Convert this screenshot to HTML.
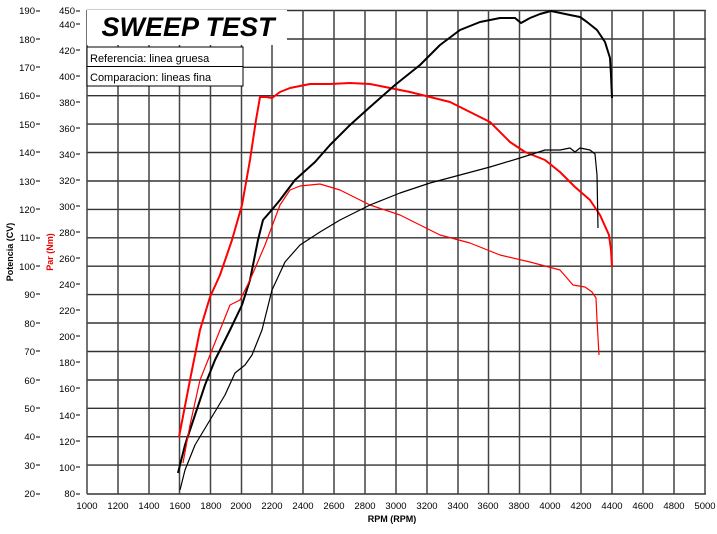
<!DOCTYPE html>
<html><head><style>
body{margin:0;background:#fff;width:717px;height:529px;overflow:hidden}
text{font-family:"Liberation Sans",sans-serif}
</style></head><body>
<svg width="717" height="529" xmlns="http://www.w3.org/2000/svg">
<g id="grid" stroke="#333" stroke-width="1.4">
<line x1="87" y1="10.5" x2="706" y2="10.5"/>
<line x1="87" y1="39" x2="706" y2="39"/>
<line x1="87" y1="67.3" x2="706" y2="67.3"/>
<line x1="87" y1="95.7" x2="706" y2="95.7"/>
<line x1="87" y1="124.1" x2="706" y2="124.1"/>
<line x1="87" y1="152.5" x2="706" y2="152.5"/>
<line x1="87" y1="181" x2="706" y2="181"/>
<line x1="87" y1="209.4" x2="706" y2="209.4"/>
<line x1="87" y1="237.8" x2="706" y2="237.8"/>
<line x1="87" y1="266.2" x2="706" y2="266.2"/>
<line x1="87" y1="294.6" x2="706" y2="294.6"/>
<line x1="87" y1="323" x2="706" y2="323"/>
<line x1="87" y1="351.5" x2="706" y2="351.5"/>
<line x1="87" y1="380" x2="706" y2="380"/>
<line x1="87" y1="408.3" x2="706" y2="408.3"/>
<line x1="87" y1="436.7" x2="706" y2="436.7"/>
<line x1="87" y1="465.1" x2="706" y2="465.1"/>
<line x1="87" y1="494" x2="706" y2="494"/>
</g>
<g stroke="#444" stroke-width="1.5">
<line x1="87" y1="10" x2="87" y2="494"/><line x1="118" y1="10" x2="118" y2="494"/><line x1="149" y1="10" x2="149" y2="494"/><line x1="179.5" y1="10" x2="179.5" y2="494"/><line x1="210.5" y1="10" x2="210.5" y2="494"/><line x1="241.5" y1="10" x2="241.5" y2="494"/><line x1="272" y1="10" x2="272" y2="494"/><line x1="303" y1="10" x2="303" y2="494"/><line x1="334" y1="10" x2="334" y2="494"/><line x1="365" y1="10" x2="365" y2="494"/><line x1="396" y1="10" x2="396" y2="494"/><line x1="427" y1="10" x2="427" y2="494"/><line x1="458" y1="10" x2="458" y2="494"/><line x1="488.5" y1="10" x2="488.5" y2="494"/><line x1="519.5" y1="10" x2="519.5" y2="494"/><line x1="550.5" y1="10" x2="550.5" y2="494"/><line x1="581" y1="10" x2="581" y2="494"/><line x1="612" y1="10" x2="612" y2="494"/><line x1="643" y1="10" x2="643" y2="494"/><line x1="674" y1="10" x2="674" y2="494"/><line x1="705" y1="10" x2="705" y2="494"/>
</g>
<rect x="87" y="10" width="200" height="35" fill="#fff"/>
<text x="188" y="36" font-size="27" font-weight="bold" font-style="italic" text-anchor="middle">SWEEP TEST</text>
<rect x="87" y="47" width="156" height="39" fill="#fff" stroke="#000" stroke-width="1"/>
<line x1="87" y1="66.5" x2="243" y2="66.5" stroke="#000"/>
<text x="90" y="62" font-size="11">Referencia: linea gruesa</text>
<text x="90" y="81" font-size="11">Comparacion: lineas fina</text>
<g fill="none" stroke-linejoin="round">
<polyline stroke="#f00" stroke-width="2" points="179,437 190,380 200,330 210,297 220,275 232,240 242,205 250,160 256,120 260,97 266,97 272,98 280,92 290,88 310,84 330,84 350,83 370,84 390,88 410,92 430,97 450,102 470,112 490,122 510,142 525,152 545,160 560,172 575,187 590,200 600,215 609,235 611,250 612,267"/>
<polyline stroke="#000" stroke-width="2" points="178,473 185,445 195,415 205,385 215,360 230,330 242,305 250,280 258,240 263,220 270,212 280,200 295,180 315,162 330,145 350,125 370,107 395,85 420,65 440,45 460,30 480,22 500,18 515,18 521,23 530,18 540,14 551,11 570,15 580,17 587,22 597,30 605,42 610,58 611,75 612,98"/>
<polyline stroke="#f00" stroke-width="1.2" points="183,463 190,425 200,380 210,355 220,330 230,305 240,300 250,280 265,245 280,205 290,190 300,186 310,185 320,184 340,190 370,205 400,215 440,235 470,243 500,255 530,262 560,270 573,285 585,287 592,292 596,298 597,320 599,355"/>
<polyline stroke="#000" stroke-width="1.2" points="180,490 185,470 195,445 210,420 225,395 235,373 245,365 252,355 262,330 272,290 285,262 300,245 320,232 340,220 370,205 400,193 430,183 460,175 490,167 520,158 545,150 560,150 570,148 575,152 580,148 590,150 595,154 597,175 598,228"/>
</g>
<g font-size="9.5" text-anchor="end" fill="#000">
<text x="35" y="14">190</text><text x="35" y="43">180</text><text x="35" y="71">170</text><text x="35" y="99">160</text><text x="35" y="128">150</text><text x="35" y="156">140</text><text x="35" y="185">130</text><text x="35" y="213">120</text><text x="35" y="241">110</text><text x="35" y="270">100</text><text x="35" y="298">90</text><text x="35" y="327">80</text><text x="35" y="355">70</text><text x="35" y="384">60</text><text x="35" y="412">50</text><text x="35" y="440">40</text><text x="35" y="469">30</text><text x="35" y="497">20</text>
<text x="75" y="14">450</text><text x="75" y="28">440</text><text x="75" y="54">420</text><text x="75" y="80">400</text><text x="75" y="106">380</text><text x="75" y="132">360</text><text x="75" y="158">340</text><text x="75" y="184">320</text><text x="75" y="210">300</text><text x="75" y="236">280</text><text x="75" y="262">260</text><text x="75" y="288">240</text><text x="75" y="314">220</text><text x="75" y="340">200</text><text x="75" y="366">180</text><text x="75" y="392">160</text><text x="75" y="419">140</text><text x="75" y="445">120</text><text x="75" y="471">100</text><text x="75" y="497">80</text>
</g>
<g stroke="#000" stroke-width="1">
<path d="M36 11h4M36 39h4M36 67h4M36 96h4M36 124h4M36 152h4M36 181h4M36 209h4M36 238h4M36 266h4M36 294h4M36 323h4M36 351h4M36 380h4M36 408h4M36 437h4M36 465h4M36 494h4"/>
<path d="M76 11h4M76 24h4M76 50h4M76 76h4M76 102h4M76 128h4M76 154h4M76 180h4M76 206h4M76 232h4M76 258h4M76 284h4M76 310h4M76 336h4M76 362h4M76 388h4M76 415h4M76 441h4M76 467h4M76 494h4"/>
</g>
<g font-size="9.5" text-anchor="middle">
<text x="87" y="509">1000</text><text x="118" y="509">1200</text><text x="149" y="509">1400</text><text x="180" y="509">1600</text><text x="211" y="509">1800</text><text x="241" y="509">2000</text><text x="272" y="509">2200</text><text x="303" y="509">2400</text><text x="334" y="509">2600</text><text x="365" y="509">2800</text><text x="396" y="509">3000</text><text x="427" y="509">3200</text><text x="458" y="509">3400</text><text x="488" y="509">3600</text><text x="519" y="509">3800</text><text x="550" y="509">4000</text><text x="581" y="509">4200</text><text x="612" y="509">4400</text><text x="643" y="509">4600</text><text x="674" y="509">4800</text><text x="705" y="509">5000</text>
</g>
<text x="392" y="522" font-size="9" font-weight="bold" text-anchor="middle">RPM (RPM)</text>
<text transform="translate(13,252) rotate(-90)" font-size="9" font-weight="bold" text-anchor="middle">Potencia (CV)</text>
<text transform="translate(53,252) rotate(-90)" font-size="9" font-weight="bold" fill="#e00" text-anchor="middle">Par (Nm)</text>
</svg>
</body></html>
